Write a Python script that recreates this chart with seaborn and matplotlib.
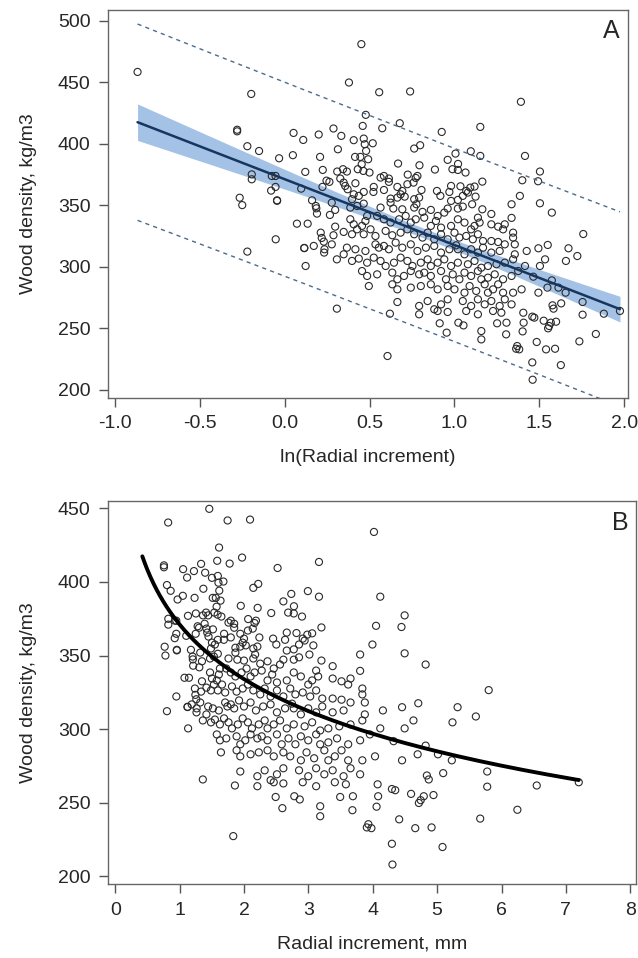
import matplotlib
matplotlib.use("Agg")
import matplotlib.pyplot as plt
import seaborn as sns
import numpy as np
import pandas as pd

# ln(radial increment) and wood density
# outer points (edges of the cloud)
ln_outer = [-0.865, -0.196, -0.279, -0.279, -0.219, -0.15, -0.193, -0.193, -0.264, -0.249, -0.219,
            0.452, 0.379, 0.557, 0.739, 0.478, 0.053, 0.201, 0.11, 0.049, -0.032,
            0.209, 0.225, 0.122, -0.075, -0.053, 0.247, 0.264, 0.223, 0.098, -0.079,
            -0.053, -0.044, -0.044, 0.162, 0.184,
            1.391, 1.503, 1.492, 1.503,
            -0.052, 0.073, 0.136, 0.116, 0.116, 0.187, 0.191, 0.267, 0.124, 0.172,
            0.213, 0.219, 0.231, 0.235, 0.233, 0.913, 0.954, 0.606,
            1.573, 1.758, 1.974, 1.879, 1.832, 1.735, 1.626, 1.458, 1.46, 1.592,
            1.539, 1.484, 1.401, 1.369, 1.381, 1.363, 1.304, 1.251, 1.158, 1.158,
            1.567, 1.557, 1.551, 1.598, 1.525, 1.458, 1.47, 1.577, 1.583, 1.628,
            1.612, 1.654, 1.754, 1.754, 1.573, 1.547, 1.494, 1.503, 1.533, 1.494,
            1.549, 1.671, 1.656, 1.723, 1.407, 1.306, 1.053, 1.023, 1.464]
dens_outer = [458.3, 440.4, 411.3, 410.0, 397.9, 394.0, 375.0, 371.0, 356.0, 350.0, 312.2,
              480.9, 449.7, 441.8, 442.4, 423.4, 408.7, 407.4, 403.0, 390.6, 388.1,
              389.2, 378.6, 377.0, 373.7, 373.7, 369.9, 368.9, 364.8, 363.4, 361.8,
              364.8, 353.9, 353.5, 353.9, 349.3,
              434.0, 377.3, 369.4, 351.5,
              322.2, 334.9, 334.9, 315.2, 315.0, 347.4, 343.1, 342.0, 300.5, 316.8,
              327.6, 323.3, 320.3, 314.1, 311.4, 253.9, 246.3, 227.3,
              343.9, 326.5, 263.9, 261.7, 245.2, 239.2, 219.9, 222.1, 208.0, 233.2,
              232.7, 238.7, 247.3, 235.4, 232.7, 233.2, 244.9, 253.9, 247.6, 240.8,
              254.4, 251.7, 249.8, 255.2, 256.0, 259.3, 258.5, 268.5, 265.8, 270.1,
              282.9, 278.8, 271.2, 260.9, 288.8, 282.9, 278.8, 300.5, 305.9, 314.9,
              317.6, 314.9, 304.6, 308.6, 254.4, 254.4, 252.2, 254.4, 291.8]

# dense core of the cloud, row by row from top to bottom
ln_core = [0.46, 0.575, 0.678, 0.925, 1.152, 0.288,
           0.334, 0.407, 0.466, 0.472, 0.519, 0.763, 0.798, 1.006, 1.096, 1.152, 1.415,
           0.314, 0.48, 0.415, 0.446, 0.492, 0.96, 1.021, 0.668, 0.794,
           0.454, 0.464, 0.431, 0.31, 0.344, 0.367, 0.5, 0.585, 0.614, 0.565, 0.725, 0.782, 0.772, 0.885, 0.988, 1.02, 1.065, 1.164, 1.399,
           0.328, 0.348, 0.357, 0.417, 0.371, 0.525, 0.614, 0.664, 0.723, 0.759, 0.806, 0.897, 0.98, 1.035, 1.069, 1.093, 1.118,
           0.407, 0.466, 0.437, 0.397, 0.523, 0.585, 0.624, 0.664, 0.683, 0.693, 0.707, 0.763, 0.792, 0.917, 0.97, 0.98, 1.02, 1.049, 1.079, 1.124, 1.336, 1.385,
           0.278, 0.298, 0.387, 0.427, 0.466, 0.565, 0.624, 0.64, 0.693, 0.763, 0.776, 0.812, 0.861, 0.901, 0.94, 0.96, 1.02, 1.049, 1.104, 1.164, 1.138, 1.336, 1.217,
           0.298, 0.387, 0.407, 0.456, 0.476, 0.486, 0.545, 0.585, 0.624, 0.674, 0.713, 0.743, 0.772, 0.822, 0.861, 0.891, 0.921, 0.98, 1.02, 1.059, 1.098, 1.118, 1.148, 1.217, 1.257, 1.286, 1.296, 1.345,
           0.288, 0.348, 0.397, 0.427, 0.466, 0.506, 0.535, 0.595, 0.634, 0.683, 0.723, 0.763, 0.812, 0.842, 0.881, 0.921, 0.96, 1.0, 1.029, 1.069, 1.108, 1.138, 1.168, 1.217, 1.257, 1.296, 1.345, 1.355,
           0.278, 0.348, 0.367, 0.417, 0.476, 0.535, 0.555, 0.585, 0.614, 0.654, 0.693, 0.743, 0.782, 0.832, 0.881, 0.921, 0.97, 1.01, 1.02, 1.059, 1.098, 1.138, 1.168, 1.217, 1.266, 1.355, 1.425,
           0.308, 0.397, 0.437, 0.486, 0.525, 0.565, 0.595, 0.644, 0.683, 0.723, 0.753, 0.802, 0.842, 0.861, 0.901, 0.94, 0.98, 1.02, 1.079, 1.118, 1.158, 1.197, 1.247, 1.296, 1.345, 1.415,
           0.456, 0.486, 0.545, 0.634, 0.664, 0.703, 0.743, 0.792, 0.822, 0.861, 0.921, 0.95, 0.99, 1.029, 1.059, 1.098, 1.138, 1.158, 1.197, 1.237, 1.286, 1.336, 1.375,
           0.496, 0.634, 0.664, 0.743, 0.802, 0.861, 0.901, 0.96, 1.0, 1.059, 1.089, 1.128, 1.178, 1.197, 1.227, 1.257, 1.286, 1.345, 1.395,
           0.664, 0.792, 0.842, 0.881, 0.921, 0.96, 1.049, 1.098, 1.138, 1.178, 1.217, 1.266, 1.296, 1.336,
           0.308, 0.62, 0.792, 0.901, 0.96, 1.069, 1.138, 1.227, 1.276, 1.405]
dens_core = [414.4, 412.5, 416.6, 409.5, 413.6, 412.3,
             406.3, 402.8, 404.1, 399.5, 400.3, 396.0, 398.7, 391.9, 393.8, 390.0, 390.0,
             395.4, 394.1, 389.2, 389.2, 387.3, 386.8, 383.5, 383.8, 382.4,
             383.2, 377.8, 379.2, 377.3, 379.2, 377.3, 376.5, 373.7, 371.6, 372.4, 374.8, 373.7, 372.1, 378.9, 379.2, 378.6, 376.5, 369.1, 370.2,
             371.6, 368.3, 365.6, 367.8, 362.9, 364.8, 368.9, 364.8, 367.0, 368.3, 362.3, 361.5, 365.6, 365.3, 361.5, 364.2, 365.1,
             358.8, 360.7, 357.5, 354.8, 360.7, 362.3, 355.3, 356.1, 358.8, 361.5, 356.9, 354.8, 356.1, 357.5, 360.7, 353.4, 354.2, 357.5, 360.2, 356.9, 350.7, 357.5,
             352.0, 346.1, 348.0, 349.3, 351.2, 348.0, 352.0, 347.2, 346.6, 348.0, 350.7, 344.5, 346.1, 341.2, 343.9, 347.2, 347.2, 348.8, 350.7, 346.6, 339.8, 339.6, 342.8,
             332.5, 338.5, 334.4, 333.1, 337.1, 341.2, 341.2, 338.5, 335.8, 338.5, 341.2, 335.8, 338.5, 339.8, 333.1, 337.1, 331.7, 333.1, 338.5, 335.8, 330.3, 333.1, 335.8, 334.4, 332.5, 330.3, 334.4, 327.6,
             325.5, 328.2, 326.3, 330.3, 326.3, 330.3, 324.9, 329.0, 325.5, 327.6, 330.3, 326.3, 323.6, 327.6, 322.2, 326.3, 322.2, 327.6, 323.6, 324.9, 322.2, 326.3, 320.8, 320.8, 320.0, 318.1, 323.6, 318.1,
             318.1, 310.0, 315.4, 314.1, 312.7, 318.1, 315.4, 316.8, 314.1, 319.5, 315.4, 318.1, 312.7, 315.4, 316.8, 311.4, 314.1, 317.3, 314.1, 310.0, 314.1, 311.4, 315.4, 311.4, 312.7, 310.0, 312.7,
             305.9, 304.6, 306.5, 303.2, 307.3, 304.6, 300.5, 303.2, 307.3, 304.6, 300.5, 303.2, 305.9, 300.5, 303.2, 305.9, 300.5, 303.2, 301.9, 304.6, 299.1, 300.5, 301.9, 303.2, 305.9, 300.5,
             296.4, 292.4, 293.7, 295.1, 289.7, 292.4, 296.4, 293.7, 295.1, 292.4, 296.4, 289.7, 293.7, 289.7, 295.1, 292.4, 296.4, 289.7, 291.0, 293.7, 289.7, 292.4, 296.4,
             284.2, 285.6, 281.5, 282.9, 284.2, 285.6, 281.5, 284.2, 281.5, 278.8, 284.2, 280.2, 285.6, 278.8, 281.5, 285.6, 278.8, 278.8, 281.5,
             271.2, 268.0, 272.0, 265.3, 269.3, 273.4, 272.0, 268.0, 273.4, 269.3, 272.0, 268.0, 273.4, 269.3,
             265.8, 261.7, 261.2, 263.9, 263.1, 263.9, 261.2, 263.9, 262.5, 262.5]

xticks_a = [-1.0, -0.5, 0.0, 0.5, 1.0, 1.5, 2.0]
yticks_a = [200, 250, 300, 350, 400, 450, 500]
xticks_b = [0, 1, 2, 3, 4, 5, 6, 7, 8]
yticks_b = [200, 250, 300, 350, 400, 450]

assert len(ln_outer) == len(dens_outer) and len(ln_core) == len(dens_core)

df = pd.DataFrame({"ln_inc": ln_outer + ln_core, "density": dens_outer + dens_core})
df["inc"] = np.exp(df["ln_inc"])

# linear fit on the log scale, with confidence and prediction bands
x = df["ln_inc"].values
y = df["density"].values
n = len(x)
b, a = np.polyfit(x, y, 1)
resid = y - (a + b * x)
s = np.sqrt(np.sum(resid ** 2) / (n - 2))
sxx = np.sum((x - x.mean()) ** 2)
t = 1.965
grid = np.linspace(x.min(), x.max(), 200)
fit = a + b * grid
ci = t * s * np.sqrt(1 / n + (grid - x.mean()) ** 2 / sxx)
pi = t * s * np.sqrt(1 + 1 / n + (grid - x.mean()) ** 2 / sxx)

sns.set_style("ticks")
plt.rcParams["font.family"] = ["Liberation Sans", "DejaVu Sans"]

fig = plt.figure(figsize=(6.38, 9.58), dpi=100)
ax1 = fig.add_axes([0.169, 0.585, 0.815, 0.405])
ax2 = fig.add_axes([0.169, 0.077, 0.828, 0.400])

point_kw = dict(marker="o", s=26, facecolor="none", edgecolor="#2a2a2a", linewidth=0.8)

# panel A
ax1.fill_between(grid, fit - ci, fit + ci, color="#a4c2e6", linewidth=0, zorder=1)
sns.scatterplot(data=df, x="ln_inc", y="density", ax=ax1, zorder=2, **point_kw)
ax1.plot(grid, fit, color="#17365f", linewidth=1.8, zorder=3)
ax1.plot(grid, fit + pi, color="#4b6b8c", linewidth=1.0, linestyle=(0, (3, 3)), zorder=3)
ax1.plot(grid, fit - pi, color="#4b6b8c", linewidth=1.0, linestyle=(0, (3, 3)), zorder=3)
ax1.set_xlim(-1.04, 2.02)
ax1.set_ylim(193.5, 509)
ax1.set_xticks(xticks_a)
ax1.set_xticklabels([f"{v:.1f}" for v in xticks_a])
ax1.set_yticks(yticks_a)
ax1.set_xlabel("ln(Radial increment)", fontsize=14, labelpad=12)
ax1.text(0.985, 0.975, "A", transform=ax1.transAxes, ha="right", va="top", fontsize=18)

# panel B
sns.scatterplot(data=df, x="inc", y="density", ax=ax2, zorder=2, **point_kw)
ax2.plot(np.exp(grid), fit, color="black", linewidth=2.8, zorder=3)
ax2.set_xlim(-0.115, 8.09)
ax2.set_ylim(194.6, 455)
ax2.set_xticks(xticks_b)
ax2.set_yticks(yticks_b)
ax2.set_xlabel("Radial increment, mm", fontsize=14, labelpad=12)
ax2.text(0.985, 0.975, "B", transform=ax2.transAxes, ha="right", va="top", fontsize=18)

for ax in (ax1, ax2):
    ax.set_ylabel("Wood density, kg/m3", fontsize=14, labelpad=15)
    ax.tick_params(labelsize=14, length=6.5, width=1, pad=6, color="#555555", direction="out")
    for sp in ax.spines.values():
        sp.set_visible(True)
        sp.set_color("#666666")
        sp.set_linewidth(1.0)

fig.savefig("out.png", dpi=100, facecolor="white")
